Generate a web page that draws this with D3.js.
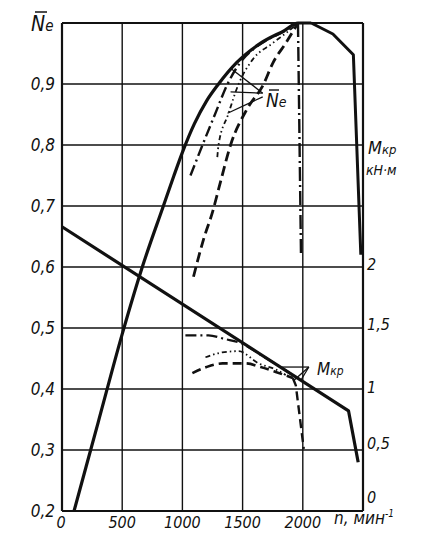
<!DOCTYPE html>
<html>
<head>
<meta charset="utf-8">
<script src="https://cdn.jsdelivr.net/npm/d3@7"></script>
<style>
  body { margin: 0; background: #fff; }
  svg text { font-family: "Liberation Sans Narrow", "DejaVu Sans Condensed", sans-serif; font-style: italic; fill: #111; }
</style>
</head>
<body>
<script>
// speed ticks (rpm) and relative power ticks
var nTicks = [0, 500, 1000, 1500, 2000]
var neTicks = [0.2, 0.3, 0.4, 0.5, 0.6, 0.7, 0.8, 0.9]
var mTicks = [0, 0.5, 1, 1.5, 2]

// relative power Ne, full characteristic (solid)
var neFull = [[100,0.2],[300,0.345],[500,0.49],[667,0.6],[842,0.7],[930,0.75],[1008,0.792],[1100,0.835],[1200,0.872],[1300,0.9],[1450,0.935],[1650,0.967],[1850,0.988],[1960,1.0],[2070,1.0]]
var neFullTail = [[2070,1.0],[2250,0.982],[2420,0.948],[2482,0.62]]
// partial characteristics
var neDashDot = [[1067,0.75],[1167,0.8],[1270,0.85],[1375,0.9],[1480,0.935],[1583,0.956],[1700,0.972],[1833,0.985],[1960,1.0]]
var neDashDot2 = [[1290,0.78],[1300,0.8],[1380,0.85],[1467,0.9],[1583,0.94],[1750,0.967],[1870,0.985],[1960,1.0]]
var neDashed = [[1092,0.584],[1175,0.645],[1250,0.69],[1317,0.74],[1400,0.8],[1540,0.86],[1675,0.9],[1750,0.934],[1858,0.967],[1960,1.0]]
var neDrop = [[1960,1.0],[1985,0.62]]

// torque Mkp, kN*m
var mFull = [[0,2.33],[2380,0.82],[2460,0.4]]
var mDashDot = [[1025,1.44],[1217,1.44],[1350,1.41],[1500,1.37],[1650,1.28],[1800,1.19],[1900,1.125]]
var mDashDot2 = [[1192,1.26],[1330,1.3],[1467,1.31],[1633,1.21],[1775,1.16],[1858,1.115]]
var mDashed = [[1083,1.13],[1200,1.18],[1333,1.21],[1525,1.21],[1650,1.18],[1775,1.14],[1917,1.09]]
var mDrop = [[1917,1.09],[1942,1.03],[2008,0.51]]

// leader lines for labels (data units)
var neLeaders = [[[1667,0.885],[1400,0.926]],[[1667,0.885],[1400,0.887]],[[1667,0.879],[1375,0.852]]]
var mLeaders = [[[2050,1.18],[1817,1.18]],[[2050,1.18],[1925,1.07]],[[2050,1.18],[1983,1.07]]]

var W = 429, H = 536
var svg = d3.select('body').append('svg').attr('width', W).attr('height', H)

var x = d3.scaleLinear().domain([0, 2500]).range([62, 363])
var y = d3.scaleLinear().domain([0.2, 1.0]).range([511, 23])
var yM = d3.scaleLinear().domain([0, 4]).range([511, 23])

// grid
var g = svg.append('g')
g.selectAll('.vg').data(nTicks.concat([2500])).enter().append('line')
    .attr('x1', d => x(d)).attr('x2', d => x(d))
    .attr('y1', y(0.2)).attr('y2', y(1.0))
    .attr('stroke', '#111').attr('stroke-width', d => (d === 0 || d === 2500) ? 2.2 : 1.4)
g.selectAll('.hg').data(neTicks.concat([1.0])).enter().append('line')
    .attr('y1', d => y(d)).attr('y2', d => y(d))
    .attr('x1', x(0)).attr('x2', x(2500))
    .attr('stroke', '#111').attr('stroke-width', d => (d === 0.2 || d === 1.0) ? 2.2 : 1.4)

// tick labels
var fmt = d => String(d).replace('.', ',')
svg.selectAll('.ly').data(neTicks).enter().append('text')
    .attr('x', 55).attr('y', d => y(d) + 6)
    .attr('text-anchor', 'end').attr('font-size', 17).text(fmt)
svg.selectAll('.lx').data(nTicks).enter().append('text')
    .attr('x', d => x(d) - (d === 0 ? 1 : 0)).attr('y', 528)
    .attr('text-anchor', 'middle').attr('font-size', 16).text(d => d)
var mShift = {0: -8, 0.5: -1, 1: 4, 1.5: 2, 2: 3}
svg.selectAll('.lm').data(mTicks).enter().append('text')
    .attr('x', 367).attr('y', d => yM(d) + mShift[d])
    .attr('text-anchor', 'start').attr('font-size', 16).text(fmt)

// axis titles
var ne = svg.append('text').attr('x', 31).attr('y', 31).attr('font-size', 21)
ne.append('tspan').text('N')
ne.append('tspan').attr('font-size', 15).text('e')
svg.append('line').attr('x1', 35).attr('x2', 47).attr('y1', 12).attr('y2', 12).attr('stroke', '#111').attr('stroke-width', 1.5)

var mk = svg.append('text').attr('x', 368).attr('y', 154).attr('font-size', 18)
mk.append('tspan').text('M')
mk.append('tspan').attr('font-size', 13).text('кр')
svg.append('text').attr('x', 366).attr('y', 175).attr('font-size', 14).text('кН·м')

var nt = svg.append('text').attr('x', 334).attr('y', 524).attr('font-size', 17)
nt.append('tspan').text('n, мин')
nt.append('tspan').attr('font-size', 10).attr('dy', -7).text('-1')

// curve labels
var nl = svg.append('text').attr('x', 266).attr('y', 107).attr('font-size', 19)
nl.append('tspan').text('N')
nl.append('tspan').attr('font-size', 14).text('e')
svg.append('line').attr('x1', 269).attr('x2', 279).attr('y1', 90).attr('y2', 90).attr('stroke', '#111').attr('stroke-width', 1.4)

var ml = svg.append('text').attr('x', 317).attr('y', 375).attr('font-size', 17)
ml.append('tspan').text('M')
ml.append('tspan').attr('font-size', 12).text('кр')

// lines
var smooth = d3.line().x(d => x(d[0])).y(d => y(d[1])).curve(d3.curveMonotoneX)
var straight = d3.line().x(d => x(d[0])).y(d => y(d[1]))
var smoothM = d3.line().x(d => x(d[0])).y(d => yM(d[1])).curve(d3.curveMonotoneX)
var straightM = d3.line().x(d => x(d[0])).y(d => yM(d[1]))

function draw(path, w, dash) {
    svg.append('path').attr('d', path).attr('fill', 'none')
        .attr('stroke', '#111').attr('stroke-width', w)
        .attr('stroke-dasharray', dash).attr('stroke-linejoin', 'round')
}

draw(smooth(neFull), 3.2, null)
draw(straight(neFullTail), 3, null)
draw(smooth(neDashDot), 2.4, '11,4,2,4')
draw(smooth(neDashDot2), 1.8, '5,3,1.5,3,1.5,3')
draw(smooth(neDashed), 2.8, '10,5')
draw(straight(neDrop), 2.4, '14,4,2,4')

draw(straightM(mFull), 3.2, null)
draw(smoothM(mDashDot), 2.2, '11,4,2,4')
draw(smoothM(mDashDot2), 1.8, '5,3,1.5,3,1.5,3')
draw(smoothM(mDashed), 2.6, '9,5')
draw(straightM(mDrop), 2.4, '9,5')

neLeaders.forEach(function(p) { draw(straight(p), 1.3, null) })
mLeaders.forEach(function(p) { draw(straightM(p), 1.3, null) })
</script>
</body>
</html>
